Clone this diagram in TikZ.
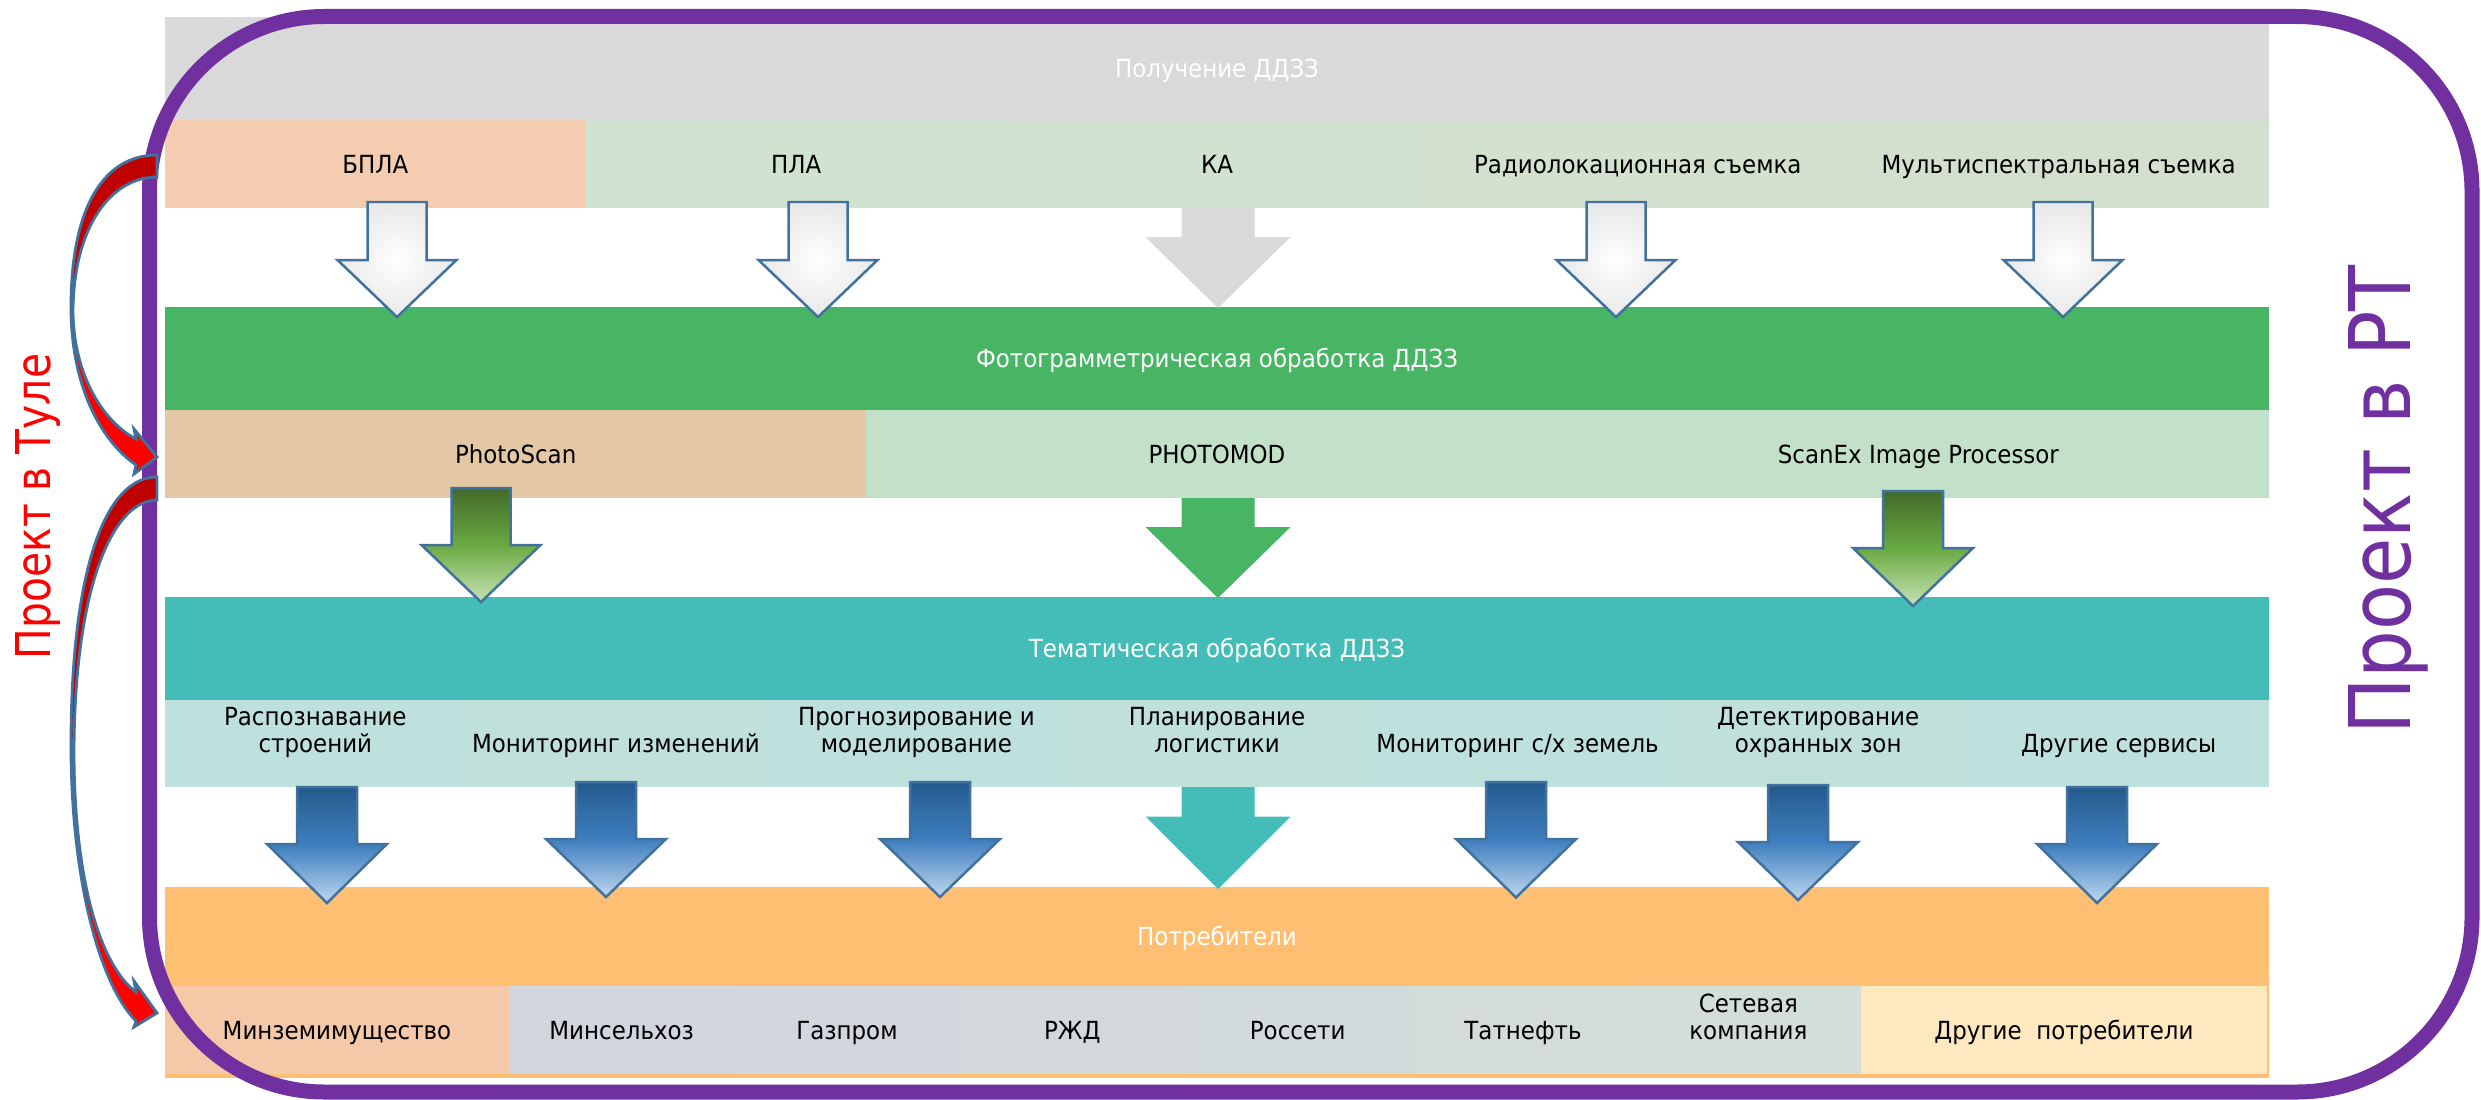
\documentclass[tikz,border=0pt]{standalone}
\usepackage{fontspec}
\setmainfont[FakeStretch=0.92]{DejaVu Sans}
\newfontfamily\vfontA[FakeStretch=0.885]{DejaVu Sans}
\newfontfamily\vfontB[FakeStretch=0.85]{DejaVu Sans}
\definecolor{purp}{HTML}{7030A0}
\definecolor{bandgray}{HTML}{D9D9D9}
\definecolor{bandgreen}{HTML}{48B565}
\definecolor{bandteal}{HTML}{44BDB8}
\definecolor{bandorange}{HTML}{FEBF73}
\definecolor{peachA}{HTML}{F4CCB0}
\definecolor{lgA}{HTML}{D0E3D0}
\definecolor{lgB}{HTML}{D2E2D0}
\definecolor{lgC}{HTML}{D3E1CF}
\definecolor{lgD}{HTML}{D4E0CE}
\definecolor{tanA}{HTML}{E4C8A6}
\definecolor{lgE}{HTML}{C3E0C8}
\definecolor{ltealA}{HTML}{BFE1DD}
\definecolor{ltealB}{HTML}{C0E0DA}
\definecolor{peachB}{HTML}{F5C8A7}
\definecolor{consA}{HTML}{D2D4DE}
\definecolor{consB}{HTML}{D3D6DE}
\definecolor{consC}{HTML}{D3D8DD}
\definecolor{consD}{HTML}{D3DADB}
\definecolor{consE}{HTML}{D3DCD9}
\definecolor{consF}{HTML}{D4DED8}
\definecolor{ltyellow}{HTML}{FEE8C0}
\definecolor{aline}{HTML}{41719C}
\definecolor{dred}{HTML}{C00000}
\definecolor{gtop}{HTML}{426A2A}
\definecolor{gmid}{HTML}{6AAA42}
\definecolor{gbot}{HTML}{C8E3B5}
\definecolor{btop}{HTML}{235A8C}
\definecolor{bmid}{HTML}{3F7FBF}
\definecolor{bbot}{HTML}{BDD7EE}
\newcommand\tsz{\fontsize{7.1pt}{7.6pt}\selectfont}
% block arrow: style, cx, top, headbase, tip, half shaft, half head
\newcommand\barrow[7]{%
  \path[#1] (#2-#6,#3) -- (#2+#6,#3) -- (#2+#6,#4) -- (#2+#7,#4) -- (#2,#5)
    -- (#2-#7,#4) -- (#2-#6,#4) -- cycle;}
\begin{document}
\begin{tikzpicture}[x=0.1mm,y=-0.1mm,
  cell/.style={rectangle, inner sep=0pt, outer sep=0pt, anchor=north west,
     font=\tsz, align=center, text height=5.2pt, text depth=0pt},
  band/.style={cell, minimum width=210.4mm, text=white},
  hollow/.style={draw=aline, line width=0.25mm, inner color=white, outer color=black!9},
  greenar/.style={draw=aline, line width=0.25mm, top color=gtop, bottom color=gbot, middle color=gmid},
  bluear/.style={draw=aline, line width=0.25mm, top color=btop, bottom color=bbot, middle color=bmid},
  redar/.style={draw=aline, line width=0.28mm, line join=miter}]
\useasboundingbox (0,0) rectangle (2481,1099);

% ---- bands
\node[band, fill=bandgray, minimum height=10.3mm] (acq) at (165,17) {Получение ДДЗЗ};
\node[cell, fill=peachA, minimum width=42.08mm, minimum height=8.8mm] (c11) at (165,120) {БПЛА};
\node[cell, fill=lgA, minimum width=42.08mm, minimum height=8.8mm] (c12) at (585.8,120) {ПЛА};
\node[cell, fill=lgB, minimum width=42.08mm, minimum height=8.8mm] (c13) at (1006.6,120) {КА};
\node[cell, fill=lgC, minimum width=42.08mm, minimum height=8.8mm] (c14) at (1427.4,120) {Радиолокационная съемка};
\node[cell, fill=lgD, minimum width=42.08mm, minimum height=8.8mm] (c15) at (1848.2,120) {Мультиспектральная съемка};

\node[band, fill=bandgreen, minimum height=10.3mm] (photo) at (165,307) {Фотограмметрическая обработка ДДЗЗ};
\node[cell, fill=tanA, minimum width=70.13mm, minimum height=8.8mm] (c21) at (165,410) {PhotoScan};
\node[cell, fill=lgE, minimum width=70.13mm, minimum height=8.8mm] (c22) at (866.3,410) {PHOTOMOD};
\node[cell, fill=lgE, minimum width=70.13mm, minimum height=8.8mm] (c23) at (1567.7,410) {ScanEx Image Processor};

\node[band, fill=bandteal, minimum height=10.3mm] (theme) at (165,597) {Тематическая обработка ДДЗЗ};
\node[cell, fill=ltealA, minimum width=30.06mm, minimum height=8.7mm] (c31) at (165,700) {Распознавание\\строений};
\node[cell, fill=ltealB, minimum width=30.06mm, minimum height=8.7mm] (c32) at (465.6,700) {Мониторинг изменений};
\node[cell, fill=ltealA, minimum width=30.06mm, minimum height=8.7mm] (c33) at (766.1,700) {Прогнозирование и\\моделирование};
\node[cell, fill=ltealB, minimum width=30.06mm, minimum height=8.7mm] (c34) at (1066.7,700) {Планирование\\логистики};
\node[cell, fill=ltealA, minimum width=30.06mm, minimum height=8.7mm] (c35) at (1367.3,700) {Мониторинг с/х земель};
\node[cell, fill=ltealB, minimum width=30.06mm, minimum height=8.7mm] (c36) at (1667.9,700) {Детектирование\\охранных зон};
\node[cell, fill=ltealA, minimum width=30.06mm, minimum height=8.7mm] (c37) at (1968.4,700) {Другие сервисы};

\fill[bandorange] (165,887) rectangle (2269,1078);
\node[band, fill=bandorange, minimum height=9.9mm] (cons) at (165,887) {Потребители};
\node[cell, fill=peachB, minimum width=34.4mm, minimum height=8.8mm] (c41) at (165,986) {Минземимущество};
\node[cell, fill=consA, minimum width=22.53mm, minimum height=8.8mm] (c42) at (509,986) {Минсельхоз};
\node[cell, fill=consB, minimum width=22.53mm, minimum height=8.8mm] (c43) at (734.3,986) {Газпром};
\node[cell, fill=consC, minimum width=22.53mm, minimum height=8.8mm] (c44) at (959.7,986) {РЖД};
\node[cell, fill=consD, minimum width=22.53mm, minimum height=8.8mm] (c45) at (1185,986) {Россети};
\node[cell, fill=consE, minimum width=22.53mm, minimum height=8.8mm] (c46) at (1410.3,986) {Татнефть};
\node[cell, fill=consF, minimum width=22.53mm, minimum height=8.8mm] (c47) at (1635.7,986) {Сетевая\\компания};
\node[cell, fill=ltyellow, minimum width=40.6mm, minimum height=8.8mm] (c48) at (1861,986) {Другие\ \ потребители};

% ---- block arrows row1 -> photogrammetry
\barrow{hollow}{397}{202}{260}{317}{29.5}{59.5}
\barrow{hollow}{818}{202}{260}{317}{29.5}{59.5}
\barrow{fill=bandgray}{1218}{208}{237}{308}{36.5}{72.5}
\barrow{hollow}{1616}{202}{260}{317}{29.5}{59.5}
\barrow{hollow}{2063}{202}{260}{317}{29.5}{59.5}
% ---- row2 -> thematic
\barrow{greenar}{481}{488}{545}{602}{29.5}{59.5}
\barrow{fill=bandgreen}{1218}{498}{527}{598}{36.5}{72.5}
\barrow{greenar}{1913}{491}{548}{606}{30}{60}
% ---- row3 -> consumers
\barrow{bluear}{327}{787}{844}{903}{30}{60}
\barrow{bluear}{606}{782}{839}{897}{30}{60}
\barrow{bluear}{940}{782}{839}{897}{30}{60}
\barrow{fill=bandteal}{1218}{787}{816.5}{889}{36.5}{72.5}
\barrow{bluear}{1516}{782}{839}{897.5}{30}{60}
\barrow{bluear}{1798}{785}{842}{900}{30}{60}
\barrow{bluear}{2097}{787}{844}{903}{30}{60}

% ---- purple frame
\draw[purp, line width=1.5mm, rounded corners=17.5mm] (149.5,16.5) rectangle (2472,1092);

% ---- red curved arrows
\fill[red] (157,155) .. controls (105,155) and (71,205) .. (71,307)
  .. controls (71,385) and (100,440) .. (136,465) -- (134,474) -- (157,457)
  -- (134,429) -- (136,439) .. controls (100,420) and (73,370) .. (73,310)
  .. controls (74,225) and (112,177) .. (157,177) -- cycle;
\fill[dred] (157,155) .. controls (105,155) and (71,205) .. (71,307) -- (73,310)
  .. controls (74,225) and (112,177) .. (157,177) -- cycle;
\draw[redar] (157,155) .. controls (105,155) and (71,205) .. (71,307)
  .. controls (71,385) and (100,440) .. (136,465) -- (134,474) -- (157,457)
  -- (134,429) -- (136,439) .. controls (100,420) and (73,370) .. (73,310)
  .. controls (74,225) and (112,177) .. (157,177) -- cycle;

\fill[red] (157,477) .. controls (105,477) and (71,570) .. (71,745)
  .. controls (71,880) and (100,985) .. (136,1021) -- (134,1027) -- (157,1013)
  -- (134,981) -- (136,992) .. controls (100,965) and (74,880) .. (74,750)
  .. controls (75,580) and (115,500) .. (157,500) -- cycle;
\fill[dred] (157,477) .. controls (105,477) and (71,570) .. (71,745) -- (74,750)
  .. controls (75,580) and (115,500) .. (157,500) -- cycle;
\draw[redar] (157,477) .. controls (105,477) and (71,570) .. (71,745)
  .. controls (71,880) and (100,985) .. (136,1021) -- (134,1027) -- (157,1013)
  -- (134,981) -- (136,992) .. controls (100,965) and (74,880) .. (74,750)
  .. controls (75,580) and (115,500) .. (157,500) -- cycle;

% ---- vertical labels
\node[rotate=90, anchor=base, inner sep=0pt, text=red,
  font={\vfontB\fontsize{13.66pt}{15pt}\selectfont}] (tula) at (50,506.5) {Проект в Туле};
\node[rotate=90, anchor=base, inner sep=0pt, text=purp,
  font={\vfontA\fontsize{24.2pt}{26pt}\selectfont}] (rt) at (2410,500) {Проект в РТ};
\end{tikzpicture}
\end{document}
